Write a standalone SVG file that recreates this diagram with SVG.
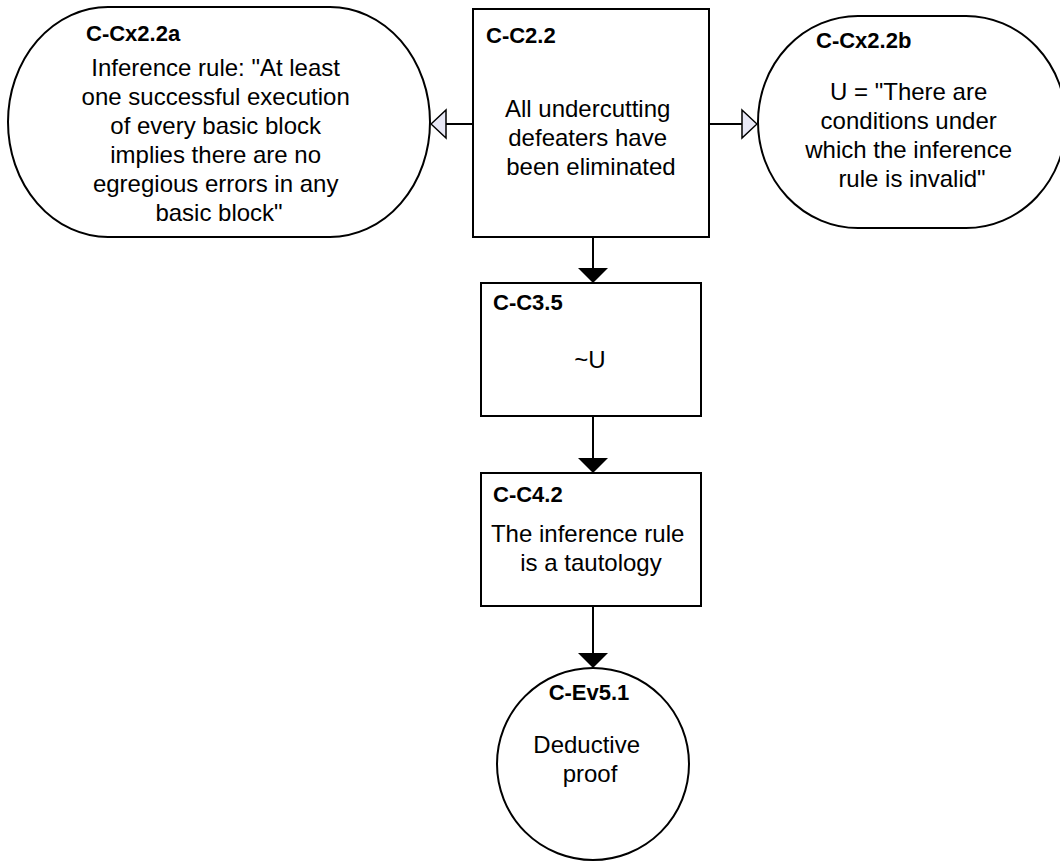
<svg xmlns="http://www.w3.org/2000/svg" width="1060" height="862" viewBox="0 0 1060 862">
  <style>
    .shape { fill: #ffffff; stroke: #000000; stroke-width: 2; }
    .id { font-family: "Liberation Sans", Arial, sans-serif; font-size: 22px; font-weight: bold; fill: #000000; }
    .body { font-family: "Liberation Sans", Arial, sans-serif; font-size: 24px; fill: #000000; text-anchor: middle; }
    .link { fill: none; stroke: #000000; stroke-width: 2; }
  </style>
  <defs>
    <marker id="solid" viewBox="0 0 15 30" refX="15" refY="15" markerWidth="15" markerHeight="30" markerUnits="userSpaceOnUse" orient="auto">
      <path d="M0,0 L15,15 L0,30 Z" fill="#000000"/>
    </marker>
    <marker id="hollow" viewBox="-1 -1 17 32" refX="15" refY="15" markerWidth="17" markerHeight="32" markerUnits="userSpaceOnUse" orient="auto">
      <path d="M0,1 L15,15 L0,29 Z" fill="#e8e8f6" stroke="#000000" stroke-width="1.5"/>
    </marker>
  </defs>
  <rect width="1060" height="862" fill="#ffffff"/>

  <!-- connectors -->
  <g id="connectors">
    <path class="link" d="M473,124 L431,124" marker-end="url(#hollow)"/>
    <path class="link" d="M709,124 L757,124" marker-end="url(#hollow)"/>
    <path class="link" d="M593,237 L593,283" marker-end="url(#solid)"/>
    <path class="link" d="M593,416 L593,473" marker-end="url(#solid)"/>
    <path class="link" d="M593,606 L593,668" marker-end="url(#solid)"/>
  </g>

  <!-- context: inference rule -->
  <g id="C-Cx2.2a">
    <rect class="shape" x="8" y="7" width="422" height="230" rx="100" ry="115"/>
    <text class="id" x="86" y="41">C-Cx2.2a</text>
    <text class="body">
      <tspan x="219" y="76">Inference rule: "At least</tspan>
      <tspan x="219" y="105">one successful execution</tspan>
      <tspan x="219" y="134">of every basic block</tspan>
      <tspan x="219" y="163">implies there are no</tspan>
      <tspan x="219" y="192">egregious errors in any</tspan>
      <tspan x="219" y="221">basic block"</tspan>
    </text>
  </g>

  <!-- claim -->
  <g id="C-C2.2">
    <rect class="shape" x="473" y="9" width="236" height="228"/>
    <text class="id" x="486" y="43">C-C2.2</text>
    <text class="body">
      <tspan x="591" y="117">All undercutting</tspan>
      <tspan x="591" y="146">defeaters have</tspan>
      <tspan x="591" y="175">been eliminated</tspan>
    </text>
  </g>

  <!-- context: undercutting defeater -->
  <g id="C-Cx2.2b">
    <rect class="shape" x="758" y="16" width="308" height="212" rx="100" ry="106"/>
    <text class="id" x="816" y="48">C-Cx2.2b</text>
    <text class="body">
      <tspan x="912" y="100">U = "There are</tspan>
      <tspan x="912" y="129">conditions under</tspan>
      <tspan x="912" y="158">which the inference</tspan>
      <tspan x="912" y="187">rule is invalid"</tspan>
    </text>
  </g>

  <g id="C-C3.5">
    <rect class="shape" x="481" y="283" width="220" height="133"/>
    <text class="id" x="493" y="310">C-C3.5</text>
    <text class="body" x="590" y="368">~U</text>
  </g>

  <g id="C-C4.2">
    <rect class="shape" x="481" y="473" width="220" height="133"/>
    <text class="id" x="493" y="502">C-C4.2</text>
    <text class="body">
      <tspan x="591" y="542">The inference rule</tspan>
      <tspan x="591" y="571">is a tautology</tspan>
    </text>
  </g>

  <!-- evidence -->
  <g id="C-Ev5.1">
    <circle class="shape" cx="593" cy="764" r="96"/>
    <text class="id" x="589" y="700" text-anchor="middle">C-Ev5.1</text>
    <text class="body">
      <tspan x="590" y="753">Deductive</tspan>
      <tspan x="590" y="782">proof</tspan>
    </text>
  </g>
</svg>
